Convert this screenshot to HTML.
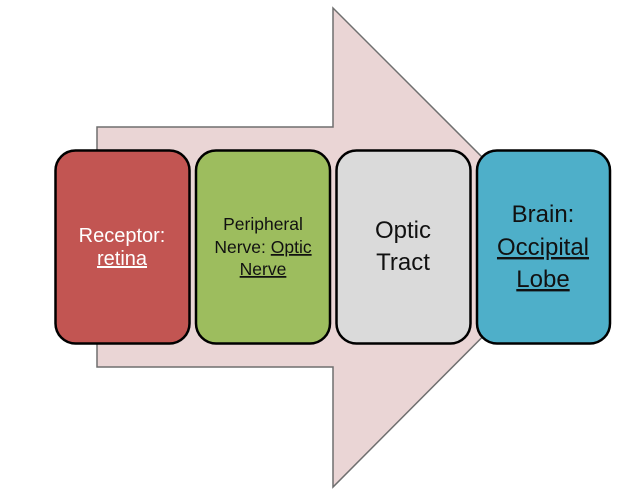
<!DOCTYPE html>
<html><head><style>
html,body{margin:0;padding:0;background:#fff;width:618px;height:490px;overflow:hidden}
svg{display:block}
text{font-family:"Liberation Sans",sans-serif;text-anchor:middle}
</style></head><body>
<svg width="618" height="490" viewBox="0 0 618 490">
<polygon points="97,127 333,127 333,8 572,247 333,487 333,367 97,367" fill="#ead5d5" stroke="#6f6f6f" stroke-width="1.5"/>
<rect x="55.5" y="150.5" width="134" height="193" rx="20" fill="#c25552" stroke="#000" stroke-width="2.5"/>
<rect x="196" y="150.5" width="134" height="193" rx="20" fill="#9dbd5e" stroke="#000" stroke-width="2.5"/>
<rect x="336.5" y="150.5" width="134" height="193" rx="20" fill="#dadada" stroke="#000" stroke-width="2.5"/>
<rect x="477" y="150.5" width="133" height="193" rx="20" fill="#4eafc9" stroke="#000" stroke-width="2.5"/>
<g fill="#fff" font-size="20">
<text x="122" y="242">Receptor:</text>
<text x="122" y="265" text-decoration="underline">retina</text>
</g>
<g fill="#111" font-size="17.5">
<text x="263" y="230">Peripheral</text>
<text x="263" y="253">Nerve: <tspan text-decoration="underline">Optic</tspan></text>
<text x="263" y="275" text-decoration="underline">Nerve</text>
</g>
<g fill="#111" font-size="24">
<text x="403" y="238">Optic</text>
<text x="403" y="270">Tract</text>
<text x="543" y="222">Brain:</text>
<text x="543" y="255" text-decoration="underline">Occipital</text>
<text x="543" y="287" text-decoration="underline">Lobe</text>
</g>
</svg>
</body></html>
